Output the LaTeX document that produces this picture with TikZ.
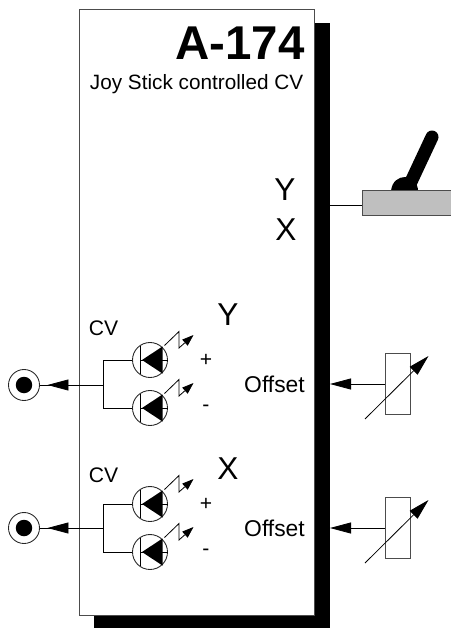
\documentclass[tikz,border=0pt]{standalone}
\usepackage{fontspec}
\setmainfont{Liberation Sans}
\usetikzlibrary{arrows.meta}
\tikzset{
  wire/.style={line width=0.45pt, black},
  sigarrow/.style={wire, -{Triangle[length=0.42cm, width=0.22cm]}},
  flash/.style={line width=0.45pt, -{Triangle[length=0.23cm, width=0.16cm]}},
  lbl/.style={inner sep=0pt, font=\fontsize{12}{14}\selectfont},
  axis/.style={inner sep=0pt, font=\fontsize{18}{20}\selectfont},
  ledcirc/.style={draw=black!85, line width=0.5pt, circle, minimum size=0.7cm, inner sep=0pt},
  jackring/.style={draw=black!85, line width=0.5pt, circle, minimum size=0.62cm, inner sep=0pt},
  jackdot/.style={fill=black, circle, minimum size=0.33cm, inner sep=0pt},
  potbox/.style={draw=black!70, line width=0.5pt, minimum width=0.5cm, minimum height=1.22cm, inner sep=0pt},
}
\begin{document}
\begin{tikzpicture}[x=0.02cm, y=-0.02cm]
\useasboundingbox (0,0) rectangle (450,628);
% shadow and panel
\fill[black] (93.5,23) rectangle (330,628);
\node[draw=black!70, line width=0.5pt, fill=white, anchor=north west, minimum width=4.71cm, minimum height=12.12cm, inner sep=0pt] (panel) at (78.5,9) {};
\node[lbl, anchor=east, font=\bfseries\fontsize{27}{30}\selectfont] (title) at (305,43) {A-174};
\node[lbl, anchor=east, font=\fontsize{11.8}{13}\selectfont] (subtitle) at (303.5,84.5) {Joy Stick controlled CV};
% joystick
\node[axis] (stickY) at (285,190) {Y};
\node[axis] (stickX) at (286,230) {X};
\fill[black] (391,191) .. controls (392,181) and (399,177) .. (405,177) .. controls (412,177) and (418,183) .. (418,191) -- cycle;
\draw[black, line width=7.4pt, line cap=round] (410,184) -- (432,137);
\node[draw=black!70, line width=0.6pt, fill=black!25, anchor=north west, minimum width=1.9cm, minimum height=0.5cm, inner sep=0pt] (stick) at (361.5,190) {};
\coordinate (stickin) at (330,205);
\draw[wire] (stickin) -- (stick.west |- stickin);
% CV and offset groups
\foreach \g/\jy/\ya/\yb/\cvy/\axy/\ax/\ofy in {a/385/360/408/328/315/Y/384, b/528/504/552/475/469/X/528} {
  \node[jackring] (jack\g) at (24,\jy) {};
  \node[jackdot] (dot\g) at (jack\g) {};
  \coordinate (join\g) at (103,\jy);
  \coordinate (tip\g) at (47.5,\jy);
  \node[lbl] (cv\g) at (103.5,\cvy) {CV};
  \node[axis] (axis\g) at (228,\axy) {\ax};
  \draw[wire] (jack\g) -- (join\g);
  \draw[sigarrow] (join\g) -- (tip\g);
  \foreach \l/\y/\sgn in {p/\ya/+, m/\yb/-} {
    \node[ledcirc] (led\g\l) at (150,\y) {};
    \coordinate (joint\g\l) at (103,\y);
    \draw[wire] (join\g) -- (joint\g\l) -- (led\g\l.west);
    \draw[wire] (led\g\l.center) ++(-9,0) -- (led\g\l.east);
    \fill[black] (142,\y) -- (162.5,\y-13.5) -- (162.5,\y+13.5) -- cycle;
    \draw[black, line width=1.1pt] (140.5,\y-14) -- (140.5,\y+14);
    \draw[flash] (164.5,\y-14.5) -- (179,\y-28.5) -- (179,\y-12) -- (193.5,\y-25);
    \node[lbl] (sign\g\l) at (206,\y+0.5) {\sgn};
  }
  \node[lbl, font=\fontsize{13}{15}\selectfont] (offset\g) at (274.5,\ofy) {Offset};
  \node[potbox] (pot\g) at (397.5,\ofy-0.5) {};
  \coordinate (edge\g) at (330,\ofy);
  \draw[sigarrow] (pot\g.west |- edge\g) -- (edge\g);
  \coordinate (wipera\g) at (365,\ofy+35);
  \coordinate (wiperb\g) at (428.5,\ofy-28);
  \draw[sigarrow] (wipera\g) -- (wiperb\g);
}
\end{tikzpicture}
\end{document}
